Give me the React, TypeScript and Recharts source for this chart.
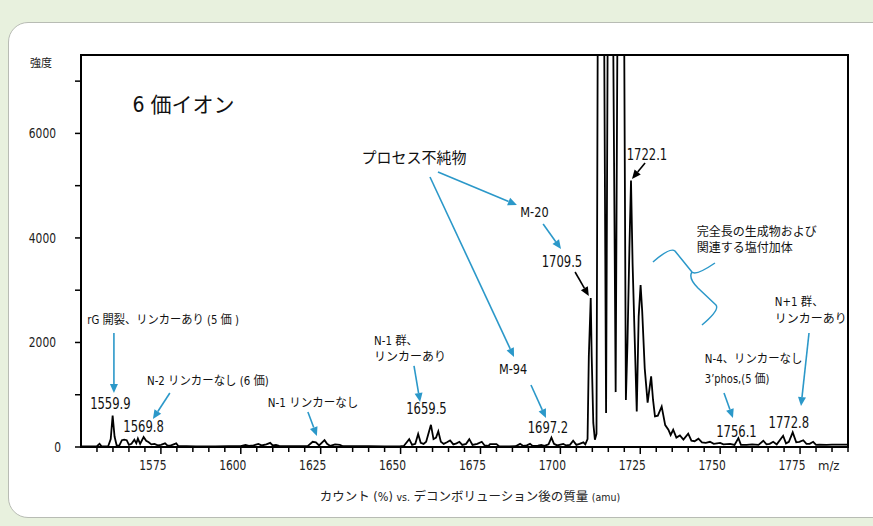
import React from "react";
import {
  LineChart,
  Line,
  XAxis,
  YAxis,
  ReferenceLine,
  ReferenceDot,
  ReferenceArea,
} from "recharts";

// deconvoluted spectrum (m/z, intensity)
const mz = [
  1550, 1553, 1555, 1555.8, 1556.5, 1558.5, 1559.3, 1559.9, 1560.5, 1561.2,
  1562, 1562.8, 1563.5, 1564.3, 1565, 1565.8, 1566.7, 1567.3, 1567.8, 1568.5,
  1569.6, 1570.4, 1571.2, 1572, 1573, 1574, 1575, 1576.3, 1577, 1578,
  1579.8, 1580.5, 1583, 1586, 1590, 1592, 1596, 1600, 1601.5, 1602.5,
  1604, 1605.5, 1606.5, 1608, 1609.2, 1610, 1611, 1612, 1615, 1618,
  1621, 1622.5, 1623.5, 1624.5, 1626.2, 1627, 1628, 1629.5, 1631, 1632,
  1636, 1640, 1645, 1650, 1651, 1652.7, 1653.6, 1654.6, 1655.5, 1656.3,
  1657.2, 1658, 1659.5, 1660.3, 1661.1, 1661.8, 1662.6, 1663.5, 1664.5, 1665.5,
  1666.5, 1667.5, 1668.4, 1669.3, 1670.5, 1671.5, 1672.5, 1674, 1675.4, 1676.3,
  1677.5, 1678, 1680, 1680.8, 1684, 1686, 1687.4, 1688.4, 1689.5, 1690.5,
  1691.3, 1693, 1694, 1695, 1696.3, 1697.2, 1698, 1699, 1700.9, 1701.8,
  1703, 1704, 1705, 1706, 1707.2, 1707.8, 1708.5, 1708.9, 1709.5, 1709.8,
  1710.3, 1710.8, 1711.3, 1712.1, 1713.2, 1714.3, 1715.5, 1716.4, 1717.3, 1718.5,
  1719.5, 1720.5, 1721.0, 1721.6, 1722.1, 1722.6, 1723.9, 1724.5, 1725.1, 1725.6,
  1726.4, 1727.3, 1728.4, 1729.0, 1729.6, 1730.5, 1731.7, 1732.8, 1733.8, 1734.5,
  1735.3, 1736.3, 1737.4, 1738.5, 1740, 1741, 1742, 1743.2, 1744.3, 1745.5,
  1746.8, 1748, 1749, 1750, 1751, 1753.1, 1754.5, 1755.7, 1756.5, 1758.3,
  1760, 1762, 1763.5, 1764.5, 1765.5, 1766.6, 1767.7, 1769.7, 1770.6, 1771.5,
  1772.7, 1773.8, 1774.8, 1776, 1777, 1778, 1779.1, 1780, 1781, 1783.3,
  1785, 1790,
];

const intensity = [
  10, 10, 15, 60, 10, 15, 150, 600, 200, 20,
  30, 130, 140, 130, 40, 60, 140, 70, 160, 60,
  190, 120, 90, 50, 60, 30, 40, 70, 30, 25,
  70, 15, 15, 10, 10, 10, 15, 15, 40, 20,
  30, 60, 30, 50, 80, 30, 40, 20, 15, 15,
  20, 100, 90, 30, 130, 60, 20, 50, 40, 15,
  15, 15, 10, 15, 20, 150, 40, 60, 250, 80,
  60, 100, 425, 150, 180, 300, 100, 60, 90, 125,
  50, 70, 100, 40, 60, 150, 40, 60, 100, 30,
  20, 55, 55, 15, 10, 15, 60, 20, 30, 60,
  20, 25, 40, 20, 50, 180, 60, 30, 60, 30,
  40, 120, 40, 60, 90, 50, 150, 1730, 2850, 1730,
  460, 140, 250, 16000, 14000, 650, 18000, 9000, 1050, 16000,
  14000, 900, 2000, 3800, 5100, 3500, 680, 2500, 3100, 2600,
  1500, 850, 1350, 900, 585, 600, 775, 420, 330, 230,
  330, 180, 220, 140, 255, 120, 110, 160, 90, 80,
  100, 60, 70, 80, 50, 60, 40, 170, 40, 40,
  50, 40, 120, 50, 60, 100, 50, 215, 70, 100,
  280, 90, 100, 130, 60, 60, 100, 40, 45, 40,
  45, 45,
];

const xTicks = [
  1555, 1560, 1565, 1570, 1575, 1580, 1585, 1590, 1595, 1600, 1605, 1610,
  1615, 1620, 1625, 1630, 1635, 1640, 1645, 1650, 1655, 1660, 1665, 1670,
  1675, 1680, 1685, 1690, 1695, 1700, 1705, 1710, 1715, 1720, 1725, 1730,
  1735, 1740, 1745, 1750, 1755, 1760, 1765, 1770, 1775, 1780, 1785, 1790,
];
const xLabels = [1575, 1600, 1625, 1650, 1675, 1700, 1725, 1750, 1775];
const yTicks = [0, 1000, 2000, 3000, 4000, 5000, 6000, 7000];
const yLabels = [0, 2000, 4000, 6000];

const spectrum = mz.map((m, k) => ({ mz: m, i: intensity[k] }));

const NARROW = '"Liberation Sans Narrow", "DejaVu Sans Condensed", "Noto Sans CJK JP", sans-serif';
const BLUE = "#2b98c9";

// annotation texts, placed in data units; sx squeezes the latin-only labels
const notes = [
  { t: "6 価イオン", x: 1582.1, y: 6563, size: 21, anchor: "middle", sx: 1 },
  { t: "プロセス不純物", x: 1654.2, y: 5529, size: 15, anchor: "middle", sx: 1 },
  { t: "M-20", x: 1691.9, y: 4496, size: 14, anchor: "middle", sx: 0.9 },
  { t: "1709.5", x: 1700.5, y: 3540, size: 15, anchor: "middle", sx: 0.86 },
  { t: "1722.1", x: 1727.1, y: 5587, size: 15, anchor: "middle", sx: 0.86 },
  { t: "完全長の生成物および", x: 1742.7, y: 4114, size: 12, anchor: "start", sx: 1 },
  { t: "関連する塩付加体", x: 1742.7, y: 3807, size: 12, anchor: "start", sx: 1 },
  { t: "N+1 群、", x: 1767.1, y: 2774, size: 12, anchor: "start", sx: 0.95 },
  { t: "リンカーあり", x: 1767.1, y: 2449, size: 12, anchor: "start", sx: 1 },
  { t: "N-4、リンカーなし", x: 1745.2, y: 1684, size: 12, anchor: "start", sx: 0.95 },
  { t: "3’phos,(5 価)", x: 1745.2, y: 1301, size: 12, anchor: "start", sx: 0.92 },
  { t: "1756.1", x: 1755.1, y: 287, size: 15, anchor: "middle", sx: 0.86 },
  { t: "1772.8", x: 1771.5, y: 459, size: 15, anchor: "middle", sx: 0.86 },
  { t: "1697.2", x: 1696.1, y: 364, size: 15, anchor: "middle", sx: 0.86 },
  { t: "M-94", x: 1685.2, y: 1492, size: 14, anchor: "middle", sx: 0.9 },
  { t: "1659.5", x: 1658.1, y: 727, size: 15, anchor: "middle", sx: 0.86 },
  { t: "N-1 群、", x: 1641.7, y: 2028, size: 12, anchor: "start", sx: 0.95 },
  { t: "リンカーあり", x: 1641.7, y: 1722, size: 12, anchor: "start", sx: 1 },
  { t: "N-1 リンカーなし", x: 1622.6, y: 842, size: 12, anchor: "middle", sx: 0.96 },
  { t: "N-2 リンカーなし (6 価)", x: 1589.7, y: 1263, size: 12, anchor: "middle", sx: 0.95 },
  { t: "rG 開裂、リンカーあり (5 価 )", x: 1575.7, y: 2430, size: 12, anchor: "middle", sx: 0.94 },
  { t: "1559.9", x: 1559.2, y: 823, size: 15, anchor: "middle", sx: 0.86 },
  { t: "1569.8", x: 1569.6, y: 383, size: 15, anchor: "middle", sx: 0.86 },
];

// arrows: from -> to, data units
const arrows = [
  { x1: 1560.3, y1: 2181, x2: 1560.3, y2: 1033, c: BLUE },
  { x1: 1577.8, y1: 1033, x2: 1572.5, y2: 536, c: BLUE },
  { x1: 1621.0, y1: 670, x2: 1623.8, y2: 210, c: BLUE },
  { x1: 1654.2, y1: 1550, x2: 1656.1, y2: 861, c: BLUE },
  { x1: 1690.8, y1: 1186, x2: 1695.5, y2: 555, c: BLUE },
  { x1: 1661.7, y1: 5262, x2: 1686.4, y2: 4630, c: BLUE },
  { x1: 1659.2, y1: 5166, x2: 1685.5, y2: 1722, c: BLUE },
  { x1: 1694.6, y1: 4267, x2: 1700.2, y2: 3788, c: BLUE },
  { x1: 1704.6, y1: 3348, x2: 1708.9, y2: 2889, c: "#000" },
  { x1: 1726.5, y1: 5434, x2: 1722.4, y2: 5128, c: "#000" },
  { x1: 1751.2, y1: 1033, x2: 1754.0, y2: 555, c: BLUE },
  { x1: 1777.8, y1: 2181, x2: 1775.3, y2: 784, c: BLUE },
];

const arrowShape = (color: string) => (p: any) => {
  const { x1, y1, x2, y2 } = p;
  const a = Math.atan2(y2 - y1, x2 - x1);
  const L = 9;
  const W = 4;
  const bx = x2 - L * Math.cos(a);
  const by = y2 - L * Math.sin(a);
  const nx = -Math.sin(a) * W;
  const ny = Math.cos(a) * W;
  return (
    <g>
      <line x1={x1} y1={y1} x2={bx} y2={by} stroke={color} strokeWidth={1.6} />
      <polygon points={`${x2},${y2} ${bx + nx},${by + ny} ${bx - nx},${by - ny}`} fill={color} />
    </g>
  );
};

const textShape = (t: string, size: number, anchor: string, sx: number) => (p: any) => (
  <g transform={`translate(${p.cx},${p.cy}) scale(${sx},1)`}>
    <text x={0} y={0} dy="0.36em" textAnchor={anchor} fontSize={size} fontFamily={NARROW} fill="#111">
      {t}
    </text>
  </g>
);

const Brace = (p: any) => {
  const { cx, cy } = p;
  const d =
    `M${cx - 41},${cy - 12} Q${cx - 24},${cy - 27} ${cx - 19},${cy - 23} L${cx - 2},${cy - 2} ` +
    `Q${cx + 2},${cy + 2} ${cx + 21},${cy - 11} ` +
    `M${cx - 2},${cy - 2} Q${cx - 6},${cy + 4} ${cx + 4},${cy + 14} L${cx + 22},${cy + 31} ` +
    `Q${cx + 26},${cy + 36} ${cx + 8},${cy + 51}`;
  return <path d={d} fill="none" stroke={BLUE} strokeWidth={1.5} strokeLinejoin="round" />;
};

const XTick = ({ x, y, payload }: any) => {
  const major = xLabels.includes(payload.value);
  return (
    <g>
      <line x1={x} y1={y} x2={x} y2={y + (major ? 7 : 5)} stroke="#000" strokeWidth={1.5} />
      {major && (
        <g transform={`translate(${x - 8},${y + 23}) scale(0.88,1)`}>
          <text x={0} y={0} textAnchor="middle" fontSize={13.5} fontFamily={NARROW} fill="#222">
            {payload.value}
          </text>
        </g>
      )}
    </g>
  );
};

const YTick = ({ x, y, payload }: any) => {
  const major = yLabels.includes(payload.value);
  return (
    <g>
      <line x1={x - 6} y1={y} x2={x} y2={y} stroke="#000" strokeWidth={1.5} />
      {major && (
        <g transform={`translate(${payload.value === 0 ? x - 20 : x - 25},${y}) scale(0.88,1)`}>
          <text x={0} y={0} dy="0.36em" textAnchor="end" fontSize={13.5} fontFamily={NARROW} fill="#222">
            {payload.value}
          </text>
        </g>
      )}
    </g>
  );
};

export default function App() {
  return (
    <div style={{ position: "relative", width: 873, height: 526, background: "#e8f1de", overflow: "hidden" }}>
      <style>{`body{margin:0}`}</style>
      <div
        style={{
          position: "absolute",
          left: 8,
          top: 22,
          width: 900,
          height: 494,
          background: "#fff",
          border: "1.5px solid #b8bcb4",
          borderRadius: 20,
        }}
      />
      <div style={{ position: "absolute", left: 0, top: 0 }}>
        <LineChart width={873} height={526} data={spectrum} margin={{ top: 55, right: 25, left: 21, bottom: 49 }}>
          <XAxis
            dataKey="mz"
            type="number"
            domain={[1550, 1790]}
            allowDataOverflow
            ticks={xTicks}
            interval={0}
            tickSize={0}
            tickMargin={0}
            tick={<XTick />}
            axisLine={{ stroke: "#000", strokeWidth: 2 }}
            height={30}
          />
          <YAxis
            type="number"
            domain={[0, 7500]}
            allowDataOverflow
            ticks={yTicks}
            interval={0}
            tickSize={0}
            tickMargin={0}
            tick={<YTick />}
            axisLine={{ stroke: "#000", strokeWidth: 2 }}
            width={60}
          />
          <ReferenceArea x1={1550} x2={1790} y1={0} y2={7500} fill="none" stroke="#000" strokeWidth={2} />
          <Line
            dataKey="i"
            type="linear"
            stroke="#000"
            strokeWidth={1.8}
            dot={false}
            isAnimationActive={false}
          />
          {arrows.map((a, k) => (
            <ReferenceLine
              key={`a${k}`}
              segment={[{ x: a.x1, y: a.y1 }, { x: a.x2, y: a.y2 }]}
              shape={arrowShape(a.c)}
            />
          ))}
          <ReferenceDot x={1741.8} y={3310} r={0} shape={Brace} />
          {notes.map((n, k) => (
            <ReferenceDot key={`n${k}`} x={n.x} y={n.y} r={0} shape={textShape(n.t, n.size, n.anchor, n.sx)} />
          ))}
        </LineChart>
      </div>
      <div style={{ position: "absolute", left: 30, top: 54, fontSize: 11, fontFamily: NARROW, color: "#222" }}>強度</div>
      <div style={{ position: "absolute", left: 818, top: 458, fontSize: 13, fontFamily: NARROW, color: "#222" }}>m/z</div>
      <div
        style={{
          position: "absolute",
          left: 0,
          width: 940,
          top: 486,
          textAlign: "center",
          fontSize: 12.5,
          fontFamily: NARROW,
          color: "#222",
        }}
      >
        カウント (%) <span style={{ fontSize: 10.5 }}>vs.</span> デコンボリューション後の質量{" "}
        <span style={{ fontSize: 10.5 }}>(amu)</span>
      </div>
    </div>
  );
}
